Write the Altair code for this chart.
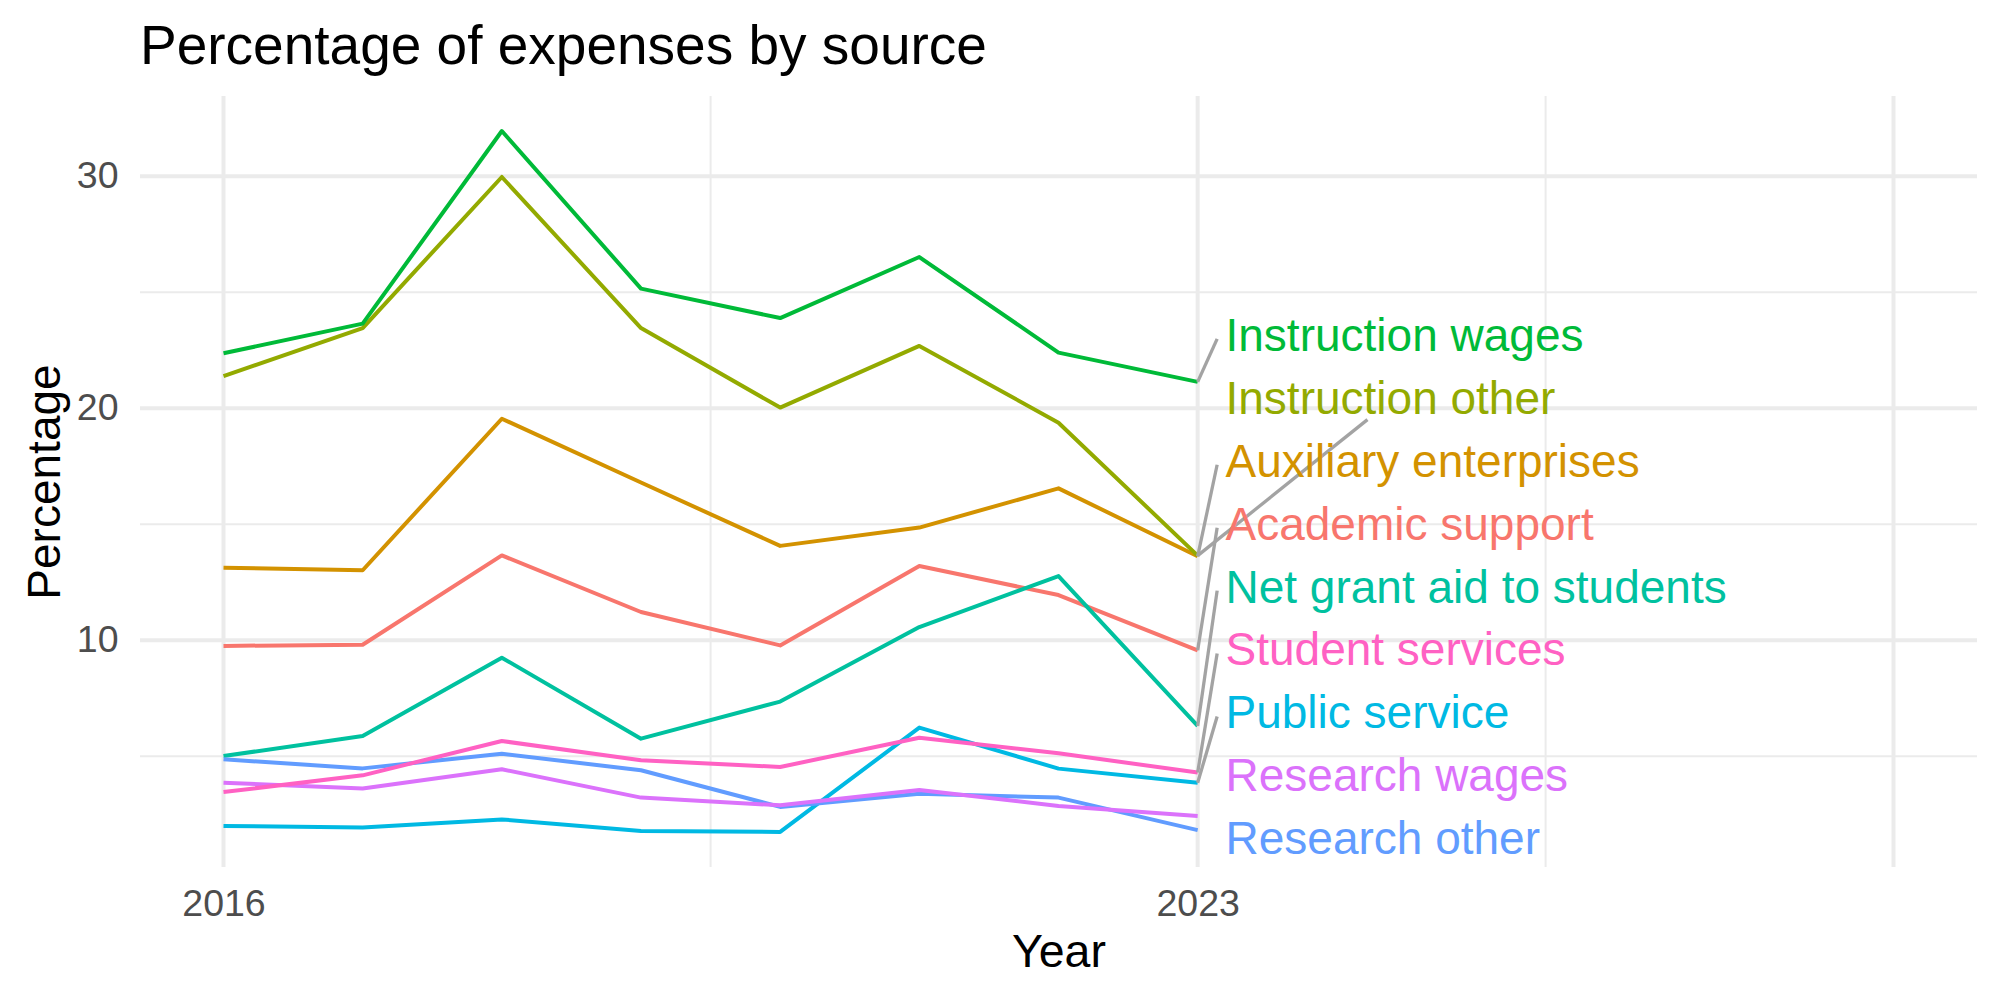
import altair as alt
import pandas as pd

# ---- data -----------------------------------------------------------------
years = [2016, 2017, 2018, 2019, 2020, 2021, 2022, 2023]

sources = [
    "Academic support",
    "Auxiliary enterprises",
    "Instruction other",
    "Instruction wages",
    "Net grant aid to students",
    "Public service",
    "Research other",
    "Research wages",
    "Student services",
]

academic_support = [9.76, 9.81, 13.66, 11.22, 9.78, 13.20, 11.95, 9.57]
auxiliary_enterprises = [13.13, 13.02, 19.55, 16.80, 14.07, 14.86, 16.55, 13.62]
instruction_other = [21.39, 23.46, 29.97, 23.46, 20.03, 22.69, 19.38, 13.65]
instruction_wages = [22.37, 23.65, 31.95, 25.16, 23.89, 26.52, 22.40, 21.14]
net_grant_aid = [5.01, 5.88, 9.25, 5.76, 7.36, 10.57, 12.77, 6.31]
public_service = [2.00, 1.93, 2.28, 1.78, 1.74, 6.24, 4.47, 3.86]
research_other = [4.87, 4.48, 5.11, 4.40, 2.82, 3.39, 3.22, 1.82]
research_wages = [3.86, 3.61, 4.44, 3.22, 2.89, 3.55, 2.86, 2.43]
student_services = [3.46, 4.18, 5.66, 4.83, 4.54, 5.80, 5.13, 4.30]

series_values = [
    academic_support,
    auxiliary_enterprises,
    instruction_other,
    instruction_wages,
    net_grant_aid,
    public_service,
    research_other,
    research_wages,
    student_services,
]

x_breaks = [2016, 2023]
x_major_grid = [2016, 2023, 2028]
x_minor_grid = [2019.5, 2025.5]
y_breaks = [10, 20, 30]
y_minor_grid = [5, 15, 25]

# ---- styling ----------------------------------------------------------------
palette = ["#F8766D", "#D39200", "#93AA00", "#00BA38", "#00C19F",
           "#00B9E3", "#619CFF", "#DB72FB", "#FF61C3"]
FONT = "Liberation Sans"
GRID = "#EBEBEB"
SEGMENT = "#A3A3A3"

PLOT_W, PLOT_H = 1837, 771

# end-of-line labels: stacked upward from the lowest line end
LABEL_X = 2023.2
LABEL_BASE = 1.38
LABEL_STEP = 2.713
LABEL_CAP_SHIFT = 0.11       # cap-centre sits slightly above the anchor
SEGMENT_X = 2023.14
MIN_SEGMENT = 1.9
BOTTOM_ATTACH = {"Instruction other"}

# ---- tables -------------------------------------------------------------------
rows = []
for name, vals in zip(sources, series_values):
    for yr, v in zip(years, vals):
        rows.append({"Year": yr, "Source": name, "Percentage": v})
lines_df = pd.DataFrame(rows)

lo, hi = lines_df["Percentage"].min(), lines_df["Percentage"].max()
pad = 0.05 * (hi - lo)
y_domain = [lo - pad, hi + pad]
x_lim = [2016, 2028]
x_pad = 0.05 * (x_lim[1] - x_lim[0])
x_domain = [x_lim[0] - x_pad, x_lim[1] + x_pad]

ends = [(name, vals[-1]) for name, vals in zip(sources, series_values)]
ranked = sorted(ends, key=lambda t: t[1])  # lowest end first
label_rows, seg_rows = [], []
for rank, (name, end) in enumerate(ranked):
    ly = LABEL_BASE + rank * LABEL_STEP
    label_rows.append({"Source": name, "x": LABEL_X, "y": ly})
    centre = ly + LABEL_CAP_SHIFT
    dy = centre - end
    if abs(dy) < MIN_SEGMENT:
        continue
    if name in BOTTOM_ATTACH:
        ex, ey = LABEL_X + 1.02, centre - 0.97
    else:
        ex, ey = SEGMENT_X, centre - (0.2 if dy > 0 else -0.2)
    seg_rows.append({"Source": name, "x": years[-1], "y": end, "x2": ex, "y2": ey})
labels_df = pd.DataFrame(label_rows)
segments_df = pd.DataFrame(seg_rows)

xs = alt.Scale(domain=x_domain, nice=False, zero=False)
ys = alt.Scale(domain=y_domain, nice=False, zero=False)
color = alt.Color("Source:N", scale=alt.Scale(domain=sources, range=palette), legend=None)

# shared axes, given identically to every layer so they merge into one
x_axis = alt.Axis(values=x_breaks, format="d", title="Year", grid=False,
                  ticks=False, domain=False, labelFlush=False,
                  labelFont=FONT, labelFontSize=37.5, labelColor="#4D4D4D",
                  labelPadding=18,
                  titleFont=FONT, titleFontSize=46.5, titleFontWeight="normal",
                  titleColor="black", titleBaseline="alphabetic",
                  titleAlign="center", titleX=PLOT_W / 2, titleY=99.4)
y_axis = alt.Axis(values=y_breaks, title="Percentage", grid=False,
                  ticks=False, domain=False,
                  labelFont=FONT, labelFontSize=37.5, labelColor="#4D4D4D",
                  labelPadding=22,
                  titleFont=FONT, titleFontSize=46, titleFontWeight="normal",
                  titleColor="black", titleAngle=270, titleBaseline="alphabetic",
                  titleAlign="center", titleX=-81, titleY=PLOT_H / 2)


def X(field):
    return alt.X(field, scale=xs, axis=x_axis)


def Y(field):
    return alt.Y(field, scale=ys, axis=y_axis)


# ---- grid -------------------------------------------------------------------
def vgrid(vals, width):
    return alt.Chart(pd.DataFrame({"v": vals})).mark_rule(color=GRID, strokeWidth=width).encode(
        x=X("v:Q"))


def hgrid(vals, width):
    return alt.Chart(pd.DataFrame({"v": vals})).mark_rule(color=GRID, strokeWidth=width).encode(
        y=Y("v:Q"))


grid = [hgrid(y_minor_grid, 2), vgrid(x_minor_grid, 2),
        hgrid(y_breaks, 4), vgrid(x_major_grid, 4)]

# ---- lines ------------------------------------------------------------------
lines = alt.Chart(lines_df).mark_line(strokeWidth=4, strokeJoin="round").encode(
    x=X("Year:Q"),
    y=Y("Percentage:Q"),
    color=color,
    detail="Source:N",
)

segments = alt.Chart(segments_df).mark_rule(color=SEGMENT, strokeWidth=3.3).encode(
    x=X("x:Q"),
    y=Y("y:Q"),
    x2="x2:Q",
    y2="y2:Q",
)

labels = alt.Chart(labels_df).mark_text(
    align="left", baseline="middle", font=FONT, fontSize=46
).encode(
    x=X("x:Q"),
    y=Y("y:Q"),
    text="Source:N",
    color=color,
)

title = alt.Chart(pd.DataFrame({"t": ["Percentage of expenses by source"]})).mark_text(
    align="left", baseline="alphabetic", font=FONT, fontSize=55, color="black"
).encode(x=alt.value(0), y=alt.value(-32), text="t:N")

chart = alt.layer(*grid, lines, segments, labels, title).properties(
    width=PLOT_W,
    height=PLOT_H,
    autosize=alt.AutoSizeParams(type="none"),
    padding={"left": 140, "top": 96, "right": 23, "bottom": 133},
    background="white",
).configure_view(stroke=None)

chart.save("out.html", embed_options={"renderer": "svg", "actions": False})
